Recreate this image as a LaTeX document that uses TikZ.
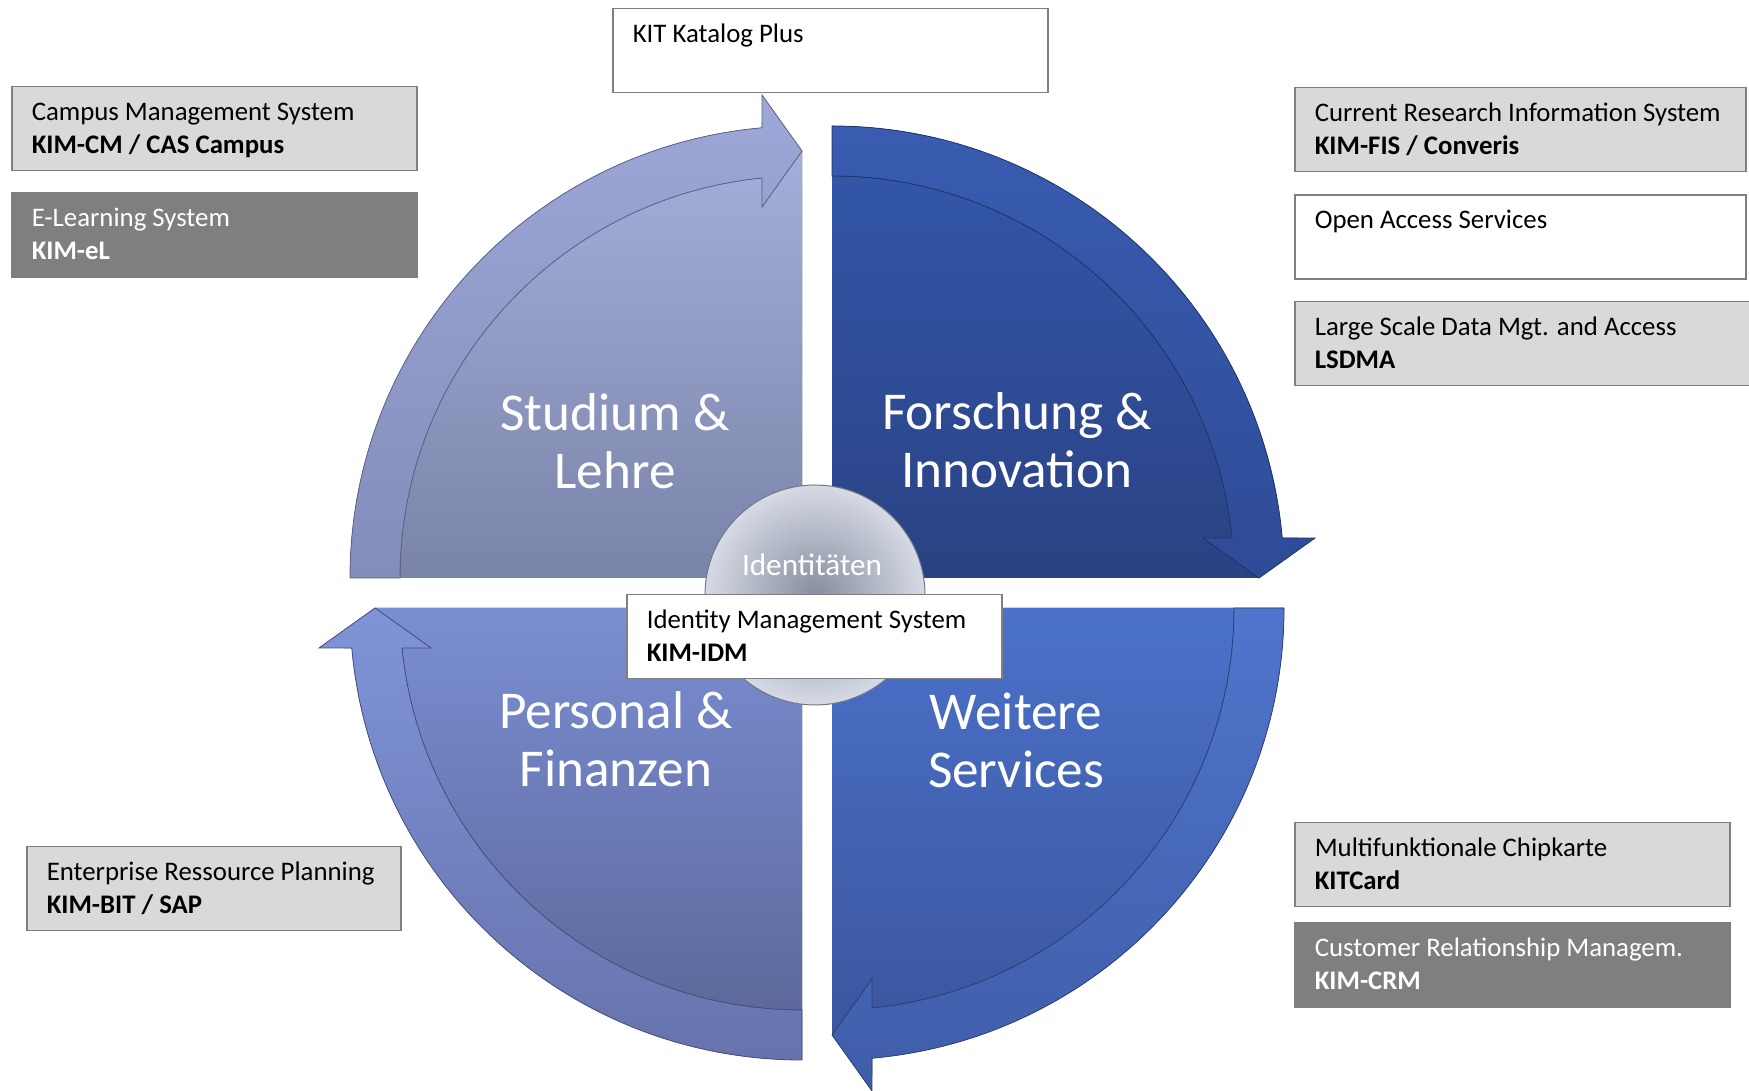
\documentclass[tikz,border=0pt]{standalone}
\usepackage{fontspec}
\setmainfont{Carlito}
\usetikzlibrary{positioning}

\definecolor{boxfill}{HTML}{D9D9D9}
\definecolor{boxdark}{HTML}{7F7F7F}
\definecolor{boxline}{HTML}{7F7F7F}
\definecolor{slTop}{HTML}{A4AEDA}
\definecolor{slBot}{HTML}{7A83A8}
\definecolor{slArcTop}{HTML}{9DA8D8}
\definecolor{slArcBot}{HTML}{838DBB}
\definecolor{fiTop}{HTML}{3356A9}
\definecolor{fiBot}{HTML}{2A4283}
\definecolor{fiArcTop}{HTML}{395CB1}
\definecolor{fiArcBot}{HTML}{2E4B96}
\definecolor{pfTop}{HTML}{7A8ED2}
\definecolor{pfBot}{HTML}{5D699C}
\definecolor{pfArcTop}{HTML}{7F94D8}
\definecolor{pfArcBot}{HTML}{6673AC}
\definecolor{wsTop}{HTML}{4B71C9}
\definecolor{wsBot}{HTML}{3B569E}
\definecolor{wsArcTop}{HTML}{5075CC}
\definecolor{wsArcBot}{HTML}{3F5DA9}
\definecolor{idIn}{HTML}{878DA0}
\definecolor{idOut}{HTML}{D6DAE5}

\newcommand{\boxfont}{\fontsize{13.4}{16.5}\selectfont}
\newcommand{\quadfont}{\fontsize{26.6}{29}\selectfont}
\newcommand{\identfont}{\fontsize{15.6}{18}\selectfont}
% two text lines of a box, with normal word spaces
\newcommand{\boxlines}[2]{\spaceskip=0pt\xspaceskip=0pt\rule{0pt}{13pt}#1\\\strut#2}

% quarter disc with arrow band: corner, start angle, body colours, band colours
\newcommand{\quadrant}[6]{%
  \pgfmathsetmacro{\aend}{#2-90}
  \fill[top color=#3, bottom color=#4] (#1) -- ([shift={(#2:402)}]#1)
    arc[start angle=#2, end angle=\aend+5.71, radius=402]
    -- ([shift={(\aend+5.35:428.87)}]#1) -- ([shift={(\aend:427)}]#1) -- cycle;
  \filldraw[top color=#5, bottom color=#6, draw=#6!70!black, line width=0.4pt]
    ([shift={(#2:452)}]#1) arc[start angle=#2, end angle=\aend+5.08, radius=452]
    -- ([shift={(\aend+4.73:484.65)}]#1) -- ([shift={(\aend:427)}]#1)
    -- ([shift={(\aend+6.15:373.15)}]#1) -- ([shift={(\aend+5.71:402)}]#1)
    arc[start angle=\aend+5.71, end angle=#2, radius=402] -- cycle;
}

\begin{document}
\begin{tikzpicture}[x=0.5pt, y=0.5pt,
  box/.style={draw=boxline, line width=0.75pt, anchor=north west, align=flush left,
    inner xsep=10pt, inner ysep=0pt, minimum height=42pt, font=\boxfont},
  lightbox/.style={box, fill=boxfill},
  darkbox/.style={box, fill=boxdark, text=white},
  whitebox/.style={box, fill=white},
  quadlabel/.style={text=white, align=center, inner sep=0pt, font=\quadfont},
  idball/.style={circle, minimum size=110pt, inner sep=0pt, inner color=idIn,
    outer color=idOut, draw=idIn!85!black, line width=0.5pt}]
  \useasboundingbox (0,0) rectangle (1749,1091);

  \coordinate (tl) at (802,513);
  \coordinate (tr) at (832,513);
  \coordinate (br) at (832,483);
  \coordinate (bl) at (802,483);

  \quadrant{tl}{180}{slTop}{slBot}{slArcTop}{slArcBot}
  \quadrant{tr}{90}{fiTop}{fiBot}{fiArcTop}{fiArcBot}
  \quadrant{br}{0}{wsTop}{wsBot}{wsArcTop}{wsArcBot}
  \quadrant{bl}{-90}{pfTop}{pfBot}{pfArcTop}{pfArcBot}

  \node[quadlabel] (studium) at (615,650) {Studium \&\\Lehre};
  \node[quadlabel] (forschung) at (1017,651) {Forschung \&\\Innovation};
  \node[quadlabel] (personal) at (616,352) {Personal \&\\Finanzen};
  \node[quadlabel] (weitere) at (1016,351) {Weitere\\Services};

  \node[idball] (ident) at (815,496) {};
  \node[font=\identfont, text=white, anchor=base] (identtext) at (812,515) {Identitäten};

  % left boxes
  \node[lightbox, text width=182.5pt] (campus) at (11,1005)
    {\boxlines{Campus Management System}{\textbf{KIM-CM / CAS Campus}}};
  \node[darkbox, text width=182.5pt, below=10.5pt of campus] (elearning)
    {\boxlines{E-Learning System}{\textbf{KIM-eL}}};
  \node[lightbox, text width=167pt] (erp) at (26,245)
    {\boxlines{Enterprise Ressource Planning}{\textbf{KIM-BIT / SAP}}};

  % middle boxes
  \node[whitebox, text width=197.5pt] (katalog) at (612,1083)
    {\boxlines{KIT Katalog Plus}{}};
  \node[whitebox, text width=167.5pt] (idm) at (626,497)
    {\boxlines{Identity Management System}{\textbf{KIM-IDM}}};

  % right boxes
  \node[lightbox, text width=205.5pt] (cris) at (1294,1004)
    {\boxlines{Current Research Information System}{\textbf{KIM-FIS / Converis}}};
  \node[whitebox, text width=205.5pt, below=11pt of cris] (openaccess)
    {\boxlines{Open Access Services}{}};
  \node[lightbox, text width=210pt, below=10.5pt of openaccess.south west, anchor=north west] (lsdma)
    {\boxlines{Large Scale Data Mgt. and Access}{\textbf{LSDMA}}};
  \node[lightbox, text width=197.5pt] (chipkarte) at (1294,269)
    {\boxlines{Multifunktionale Chipkarte}{\textbf{KITCard}}};
  \node[darkbox, text width=197.5pt, below=7.5pt of chipkarte] (crm)
    {\boxlines{Customer Relationship Managem.}{\textbf{KIM-CRM}}};
\end{tikzpicture}
\end{document}
